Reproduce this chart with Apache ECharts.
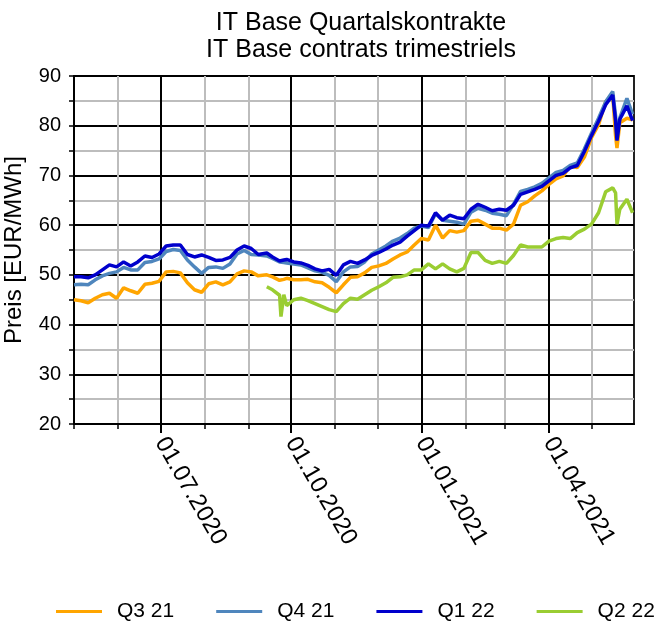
<!DOCTYPE html>
<html>
<head>
<meta charset="utf-8">
<script src="https://cdn.jsdelivr.net/npm/echarts@6/dist/echarts.min.js"></script>
<style>
  html, body { margin: 0; padding: 0; background: #fff; }
  #chart { width: 660px; height: 622px; }
</style>
</head>
<body>
<div id="chart"></div>
<script>
// sample dates (roughly every 5 days, plus a few spike days)
var dates = [
  '2020-05-01','2020-05-06','2020-05-11','2020-05-16','2020-05-21','2020-05-26','2020-05-31',
  '2020-06-05','2020-06-10','2020-06-15','2020-06-20','2020-06-25','2020-06-30',
  '2020-07-05','2020-07-10','2020-07-15','2020-07-20','2020-07-25','2020-07-30',
  '2020-08-04','2020-08-09','2020-08-14','2020-08-19','2020-08-24','2020-08-29',
  '2020-09-03','2020-09-08','2020-09-14','2020-09-18','2020-09-23','2020-09-24','2020-09-26','2020-09-28',
  '2020-10-03','2020-10-08','2020-10-13','2020-10-18','2020-10-23','2020-10-28',
  '2020-11-02','2020-11-07','2020-11-12','2020-11-17','2020-11-22','2020-11-27',
  '2020-12-02','2020-12-07','2020-12-12','2020-12-17','2020-12-22','2020-12-27',
  '2021-01-01','2021-01-06','2021-01-11','2021-01-16','2021-01-21','2021-01-26','2021-01-31',
  '2021-02-05','2021-02-10','2021-02-15','2021-02-20','2021-02-25',
  '2021-03-02','2021-03-07','2021-03-12','2021-03-17','2021-03-22','2021-03-27',
  '2021-04-01','2021-04-06','2021-04-11','2021-04-16','2021-04-21','2021-04-26',
  '2021-05-01','2021-05-06','2021-05-11','2021-05-16','2021-05-18','2021-05-19','2021-05-21','2021-05-26','2021-05-30'
];

var q321 = [
  45.0, 44.8, 44.4, 45.3, 46.0, 46.3, 45.3,
  47.4, 46.8, 46.3, 48.1, 48.3, 48.7,
  50.6, 50.7, 50.4, 48.4, 47.0, 46.5,
  48.2, 48.6, 48.0, 48.6, 50.2, 50.8,
  50.6, 49.8, 50.0, 49.6, 48.9, 49.0, 49.1, 49.3,
  49.0, 49.0, 49.1, 48.6, 48.4, 47.5,
  46.4, 48.0, 49.5, 49.6, 50.4, 51.5,
  51.8, 52.3, 53.2, 54.0, 54.6, 56.0,
  57.3, 57.0, 60.0, 57.4, 58.9, 58.6, 58.9,
  60.8, 61.0, 60.2, 59.4, 59.4,
  59.0, 60.2, 64.0, 64.7, 65.9, 66.9,
  68.2, 69.3, 69.9, 71.9, 71.6, 73.7,
  77.6, 80.2, 84.8, 86.2, 78.0, 75.5, 80.6, 81.5, 81.2
];

var q421 = [
  48.0, 48.1, 48.0, 49.0, 49.8, 50.3, 50.6,
  51.5, 51.0, 51.0, 52.5, 52.7, 53.2,
  54.7, 55.1, 54.9, 53.0, 51.6, 50.3,
  51.5, 51.6, 51.3, 52.2, 54.2, 54.9,
  54.1, 54.0, 53.8, 53.3, 52.6, 52.5, 52.5, 52.4,
  52.2, 52.0, 51.4, 50.8, 50.5, 49.9,
  48.6, 50.6, 51.6, 51.7, 52.6, 54.2,
  55.0, 55.8, 56.8, 57.4, 58.3, 59.4,
  59.8, 59.5, 62.3, 61.0, 60.8, 60.6, 60.2,
  62.6, 63.4, 63.0, 62.4, 62.2,
  61.9, 64.2, 66.8, 67.2, 67.7, 68.4,
  69.5, 70.6, 71.0, 72.0, 72.5, 75.3,
  78.5, 81.5, 84.8, 86.9, 82.0, 77.5, 81.6, 85.5, 82.3
];

var q122 = [
  49.6, 49.6, 49.4, 50.0, 51.0, 52.0, 51.6,
  52.6, 51.8, 52.6, 53.8, 53.5, 54.2,
  55.8, 56.0, 56.0, 54.1, 53.6, 54.0,
  53.5, 52.9, 53.0, 53.5, 55.0, 55.8,
  55.3, 54.1, 54.4, 53.6, 52.8, 52.8, 53.0, 53.1,
  52.6, 52.4, 51.9, 51.2, 50.8, 51.1,
  49.9, 52.0, 52.7, 52.3, 53.0, 53.9,
  54.5, 55.2, 56.0, 56.6, 57.8, 58.9,
  60.0, 59.8, 62.5, 61.0, 62.0, 61.5, 61.3,
  63.2, 64.2, 63.6, 62.9, 63.2,
  63.0, 64.0, 66.2, 66.7, 67.2, 67.8,
  68.9, 70.0, 70.4, 71.5, 72.0, 74.8,
  78.0, 80.9, 84.2, 86.2, 81.0, 77.0, 81.3, 84.0, 81.0
];

var q222 = [
  null, null, null, null, null, null, null,
  null, null, null, null, null, null,
  null, null, null, null, null, null,
  null, null, null, null, null, null,
  null, null, 47.6, 47.0, 45.9, 41.6, 46.0, 43.8,
  45.0, 45.3, 44.8, 44.2, 43.6, 43.0,
  42.6, 44.2, 45.3, 45.1, 46.0, 46.9,
  47.6, 48.4, 49.5, 49.6, 50.0, 51.0,
  51.0, 52.2, 51.2, 52.2, 51.2, 50.6, 51.3,
  54.5, 54.5, 52.9, 52.3, 52.7,
  52.3, 53.9, 56.0, 55.6, 55.6, 55.6,
  56.8, 57.3, 57.5, 57.3, 58.5, 59.2,
  60.2, 62.5, 66.7, 67.5, 66.5, 60.2, 63.2, 65.2, 62.5
];

var seriesNames = ['Q3 21', 'Q4 21', 'Q1 22', 'Q2 22'];
var seriesColors = ['#ffa500', '#4f86bd', '#0000cc', '#9acd32'];
var yTicks = [20, 30, 40, 50, 60, 70, 80, 90];

// daily category axis from start to end
var axisStart = '2020-05-01', axisEnd = '2021-05-31';
var days = [];
for (var t = Date.parse(axisStart + 'T00:00:00Z'); t <= Date.parse(axisEnd + 'T00:00:00Z'); t += 86400000) {
  days.push(new Date(t).toISOString().slice(0, 10));
}
function isMonthStart(i, v) { return v.slice(8) === '01'; }
function isQuarterStart(i, v) {
  return v.slice(8) === '01' && ['01', '04', '07', '10'].indexOf(v.slice(5, 7)) !== -1;
}

var font = 'Liberation Sans, Arial, sans-serif';
var chart = echarts.init(document.getElementById('chart'));

function pairs(vals) {
  var out = [];
  dates.forEach(function (d, i) { if (vals[i] != null) out.push([d, vals[i]]); });
  return out;
}

var allVals = [q321, q421, q122, q222];
var series = seriesNames.map(function (name, k) {
  return {
    name: name,
    type: 'line',
    xAxisIndex: 0,
    yAxisIndex: 0,
    symbol: 'none',
    lineStyle: { width: 3.5, color: seriesColors[k] },
    itemStyle: { color: seriesColors[k] },
    data: pairs(allVals[k])
  };
});

chart.setOption({
  animation: false,
  backgroundColor: '#fff',
  title: {
    text: 'IT Base Quartalskontrakte\nIT Base contrats trimestriels',
    left: 356,
    top: 5,
    textAlign: 'center',
    textStyle: { fontFamily: font, fontSize: 25, fontWeight: 'normal', color: '#000', lineHeight: 27 }
  },
  legend: {
    data: seriesNames,
    left: 51,
    top: 596,
    width: 640,
    icon: 'rect',
    itemWidth: 46,
    itemHeight: 3,
    itemGap: 42,
    textStyle: { fontFamily: font, fontSize: 21, color: '#000', padding: [0, 0, 0, 10] }
  },
  grid: {
    left: 74, right: 26, top: 76, bottom: 198,
    outerBoundsMode: 'none',
    containLabel: false,
    show: true, borderColor: '#222', borderWidth: 2
  },
  xAxis: [
    {
      type: 'category',
      data: days,
      boundaryGap: false,
      axisLine: { lineStyle: { color: '#000', width: 2 } },
      axisTick: { interval: isMonthStart, length: 5, lineStyle: { color: '#000', width: 1.5 } },
      axisLabel: { show: false },
      splitLine: { show: true, interval: isMonthStart, lineStyle: { color: '#bdbdbd', width: 2 } }
    },
    {
      type: 'category',
      data: days,
      boundaryGap: false,
      position: 'bottom',
      axisLine: { show: false },
      axisTick: { interval: isQuarterStart, length: 9, lineStyle: { color: '#000', width: 2 } },
      axisLabel: {
        interval: isQuarterStart,
        rotate: -60,
        margin: 15,
        fontFamily: font,
        fontSize: 24,
        color: '#000',
        formatter: function (v) { return v.slice(8) + '.' + v.slice(5, 7) + '.' + v.slice(0, 4); }
      },
      splitLine: { show: true, interval: isQuarterStart, lineStyle: { color: '#000', width: 2 } }
    }
  ],
  yAxis: [
    {
      type: 'value',
      min: 20, max: 90, interval: 5,
      name: 'Preis [EUR/MWh]',
      nameLocation: 'middle',
      nameGap: 48,
      nameTextStyle: { fontFamily: font, fontSize: 24, color: '#000' },
      axisLine: { show: true, lineStyle: { color: '#000', width: 2 } },
      axisTick: { show: true, length: 5, lineStyle: { color: '#000', width: 1.5 } },
      axisLabel: {
        fontFamily: font, fontSize: 20, color: '#000', margin: 13,
        formatter: function (v) { return yTicks.indexOf(v) !== -1 ? String(v) : ''; }
      },
      splitLine: { show: true, lineStyle: { color: '#bdbdbd', width: 2 } }
    },
    {
      type: 'value',
      min: 20, max: 90, interval: 10,
      position: 'left',
      axisLine: { show: false },
      axisTick: { show: false },
      axisLabel: { show: false },
      splitLine: { show: true, lineStyle: { color: '#000', width: 2 } }
    }
  ],
  series: series
});
</script>
</body>
</html>
